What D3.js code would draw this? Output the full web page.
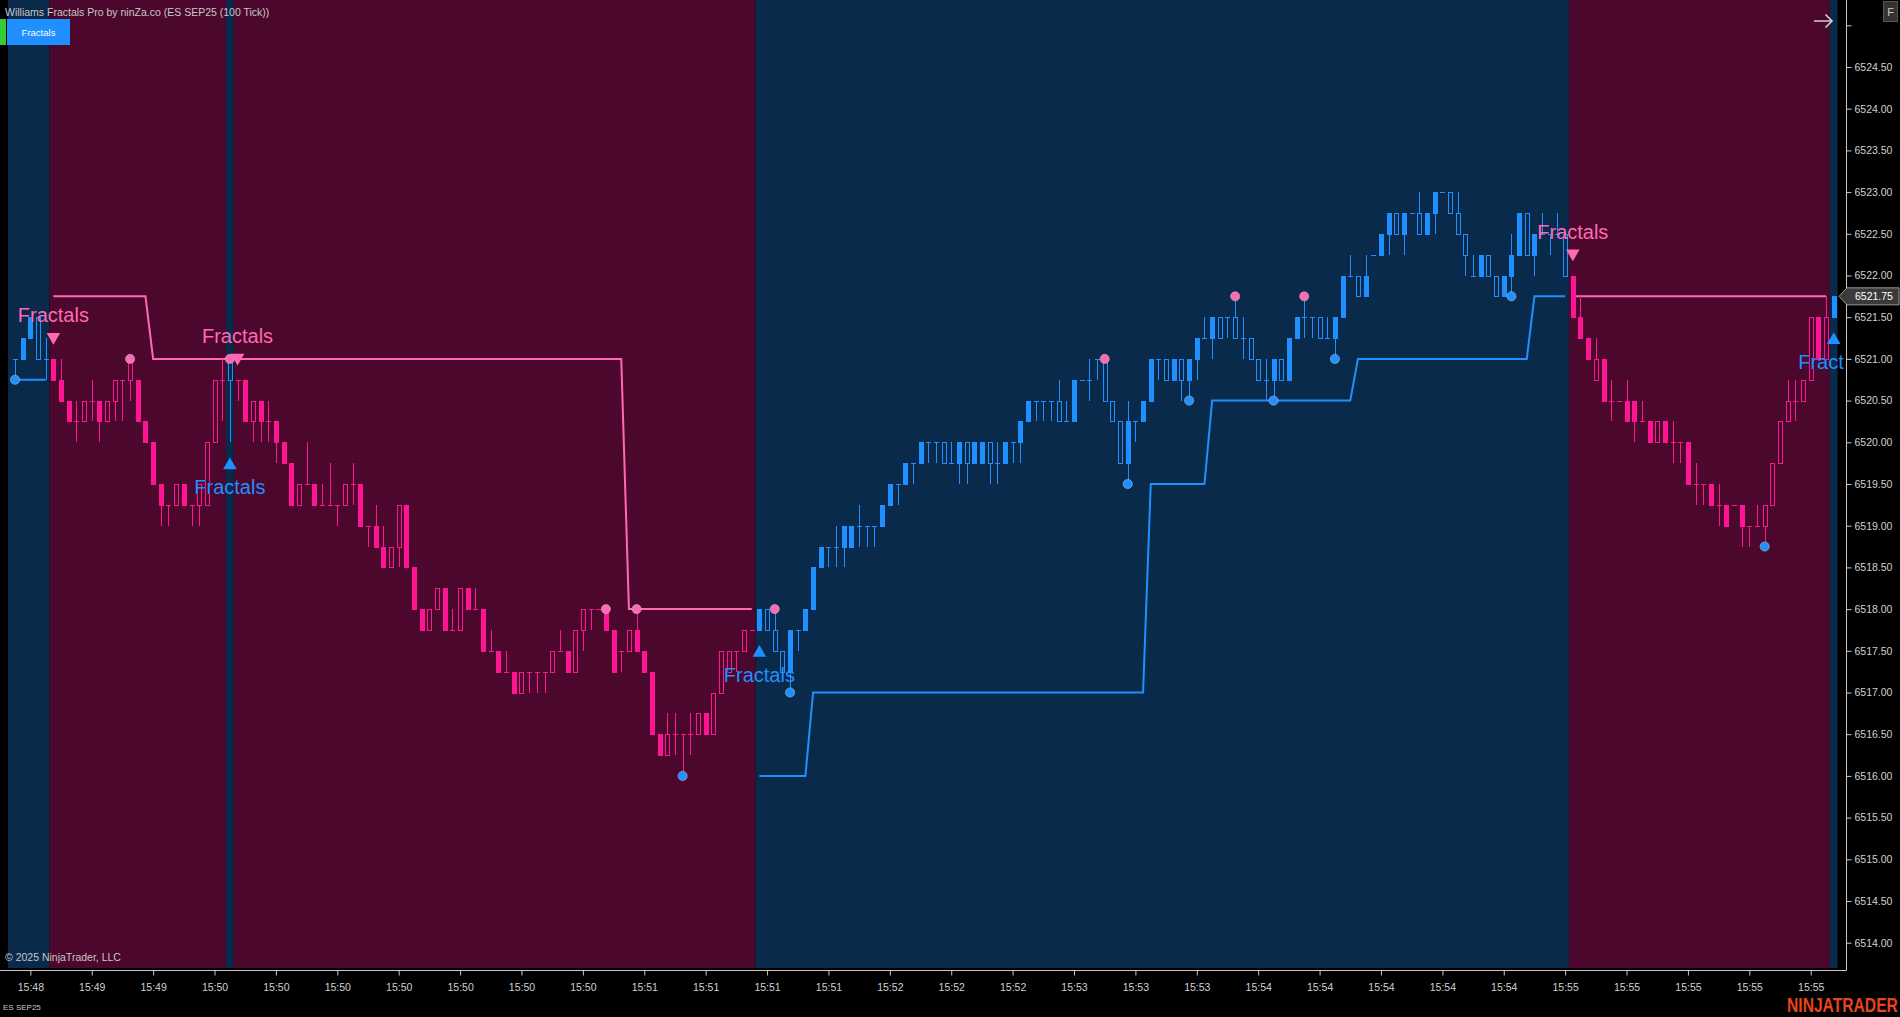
<!DOCTYPE html>
<html><head><meta charset="utf-8">
<script src="https://cdn.jsdelivr.net/npm/d3@7"></script>
<style>
html,body{margin:0;padding:0;background:#000;overflow:hidden;}
svg{display:block;font-family:"Liberation Sans",Arial,sans-serif;}
</style></head><body>
<svg id="chart" width="1900" height="1017"></svg>
<script>
// ---------------- DATA ----------------
const opens = [
6521,6521,6521.25,6521.5,6521,6521,6520.75,6520.5,6520.25,6520.25,
6520.5,6520.5,6520.25,6520.5,6520.75,6520.75,6520.75,6520.25,6520,6519.5,
6519.25,6519.25,6519.5,6519.25,6519.25,6519.25,6520,6520.75,6521,6520.75,
6520.75,6520.25,6520.5,6520.25,6520.25,6520,6519.75,6519.25,6519.5,6519.5,
6519.25,6519.25,6519.25,6519.25,6519.5,6519.5,6519,6519,6518.75,6518.5,
6518.75,6519.25,6518.5,6518,6517.75,6518,6518.25,6517.75,6517.75,6518.25,
6518,6518,6517.5,6517.5,6517.25,6517.25,6517,6517.25,6517.25,6517.25,
6517.25,6517.5,6517.5,6517.25,6517.75,6518,6518,6518,6517.75,6517.5,
6517.5,6517.75,6517.5,6517.25,6516.5,6516.25,6516.5,6516.5,6516.5,6516.5,
6516.75,6516.5,6517,6517.25,6517.5,6517.5,6517.75,6517.75,6518,6517.75,
6517.5,6517.25,6517.75,6517.75,6518,6518.5,6518.75,6518.75,6518.75,6518.75,
6519,6519,6519,6519,6519.25,6519.5,6519.5,6519.75,6519.75,6520,
6520,6520,6519.75,6519.75,6520,6519.75,6519.75,6520,6519.75,6519.75,
6520,6520,6520.25,6520.5,6520.5,6520.5,6520.5,6520.25,6520.25,6520.75,
6520.75,6521,6521,6520.5,6520.25,6519.75,6520.25,6520.25,6520.5,6521,
6521,6520.75,6521,6520.75,6521,6521.25,6521.25,6521.5,6521.5,6521.5,
6521.25,6521.25,6521,6520.75,6520.75,6521,6520.75,6521.25,6521.5,6521.5,
6521.5,6521.25,6521.25,6521.5,6522,6522,6521.75,6522.25,6522.25,6522.5,
6522.75,6522.5,6522.75,6522.75,6522.5,6522.75,6523,6523,6522.75,6522.5,
6522,6522,6522.25,6522,6521.75,6522,6522.25,6522.75,6522.25,6522.5,
6522.5,6522.5,6522.5,6522,6521.5,6521.25,6520.75,6521,6520.5,6520.5,
6520.5,6520.5,6520.25,6520.25,6520,6520.25,6520,6520,6520,6519.5,
6519.5,6519.5,6519.25,6519.25,6519.25,6519.25,6519,6519,6519,6519.25,
6519.75,6520.25,6520.5,6520.5,6520.75,6521.5,6521,6521.5];
const highs = [
6521,6521.25,6521.5,6521.5,6521.25,6521,6521,6520.5,6520.5,6520.5,
6520.75,6520.5,6520.5,6520.75,6520.75,6521,6520.75,6520.25,6520,6519.5,
6519.25,6519.5,6519.5,6519.25,6519.5,6520,6520.75,6521,6521,6520.75,
6520.75,6520.5,6520.5,6520.5,6520.25,6520,6519.75,6519.5,6520,6519.5,
6519.5,6519.75,6519.25,6519.5,6519.75,6519.5,6519,6519.25,6519,6518.75,
6519.25,6519.25,6518.5,6518,6518,6518.25,6518.25,6518,6518.25,6518.25,
6518.25,6518,6517.75,6517.5,6517.5,6517.25,6517.25,6517.25,6517.25,6517.25,
6517.5,6517.75,6517.5,6517.75,6518,6518,6518,6518,6517.75,6517.5,
6517.75,6518,6517.5,6517.25,6516.5,6516.75,6516.75,6516.5,6516.75,6516.75,
6516.75,6517,6517.5,6517.5,6517.5,6517.75,6517.75,6518,6518,6518,
6517.5,6517.75,6517.75,6518,6518.5,6518.75,6518.75,6519,6519,6519,
6519.25,6519,6519,6519.25,6519.5,6519.5,6519.75,6519.75,6520,6520,
6520,6520,6520,6520,6520,6520,6520,6520,6520,6520,
6520,6520.25,6520.5,6520.5,6520.5,6520.5,6520.75,6520.5,6520.75,6520.75,
6521,6521,6521,6520.5,6520.25,6520.5,6520.25,6520.5,6521,6521,
6521,6521,6521,6521,6521.25,6521.5,6521.5,6521.5,6521.5,6521.75,
6521.5,6521.25,6521,6521,6521,6521,6521.25,6521.5,6521.75,6521.5,
6521.5,6521.5,6521.5,6522,6522.25,6522,6522.25,6522.25,6522.5,6522.75,
6522.75,6522.75,6522.75,6523,6522.75,6523,6523,6523,6523,6522.5,
6522.25,6522.25,6522.25,6522,6522,6522.5,6522.75,6522.75,6522.5,6522.75,
6522.5,6522.75,6522.5,6522,6521.75,6521.25,6521.25,6521,6520.75,6520.5,
6520.75,6520.5,6520.5,6520.25,6520.25,6520.25,6520.25,6520,6520,6519.75,
6519.5,6519.5,6519.5,6519.25,6519.25,6519.25,6519,6519.25,6519.25,6519.75,
6520.25,6520.75,6520.75,6520.75,6521.5,6521.5,6521.75,6521.75];
const lows = [
6520.75,6521,6521.25,6521,6520.75,6520.75,6520.5,6520.25,6520,6520.25,
6520.25,6520,6520.25,6520.25,6520.25,6520.5,6520.25,6520,6519.5,6519,
6519,6519.25,6519.25,6519,6519,6519.25,6520,6520.25,6520,6520.5,
6520.25,6520,6520,6520,6519.75,6519.75,6519.25,6519.25,6519.5,6519.25,
6519.25,6519.25,6519,6519.25,6519.25,6519,6518.75,6518.75,6518.5,6518.5,
6518.5,6518.5,6518,6517.75,6517.75,6518,6517.75,6517.75,6517.75,6518,
6518,6517.5,6517.5,6517.25,6517.25,6517,6517,6517,6517,6517,
6517.25,6517.5,6517.25,6517.25,6517.5,6517.75,6518,6517.75,6517.25,6517.25,
6517.5,6517.5,6517.25,6516.5,6516.25,6516.25,6516.25,6516,6516.25,6516.5,
6516.5,6516.5,6517,6517.25,6517.25,6517.5,6517.75,6517.75,6517.75,6517.5,
6517.25,6517,6517.5,6517.75,6518,6518.5,6518.5,6518.5,6518.5,6518.75,
6518.75,6518.75,6518.75,6519,6519.25,6519.25,6519.5,6519.5,6519.75,6519.75,
6519.75,6519.75,6519.75,6519.5,6519.5,6519.75,6519.75,6519.5,6519.5,6519.75,
6519.75,6519.75,6520.25,6520.25,6520.25,6520.25,6520.25,6520.25,6520.25,6520.75,
6520.5,6520.75,6520.5,6520.25,6519.75,6519.5,6520,6520.25,6520.5,6520.75,
6520.75,6520.75,6520.5,6520.5,6520.75,6521.25,6521,6521.25,6521.25,6521.25,
6521,6521,6520.75,6520.5,6520.5,6520.75,6520.75,6521.25,6521.25,6521.25,
6521.25,6521.25,6521,6521.5,6522,6521.75,6521.75,6522.25,6522.25,6522.25,
6522.5,6522.25,6522.75,6522.5,6522.5,6522.5,6523,6522.75,6522.5,6522,
6522,6522,6522,6521.75,6521.75,6521.75,6522.25,6522.25,6522,6522.5,
6522.25,6522.5,6522,6521.5,6521.25,6521,6520.75,6520.5,6520.25,6520.5,
6520.25,6520,6520.25,6520,6520,6520,6519.75,6519.75,6519.5,6519.25,
6519.25,6519.25,6519,6519,6519.25,6518.75,6518.75,6519,6518.75,6519.25,
6519.75,6520.25,6520.25,6520.5,6520.75,6521,6521,6521.5];
const closes = [
6521,6521.25,6521.5,6521,6521,6520.75,6520.5,6520.25,6520.25,6520.5,
6520.5,6520.25,6520.5,6520.75,6520.75,6521,6520.25,6520,6519.5,6519.25,
6519.25,6519.5,6519.25,6519.25,6519.5,6520,6520.75,6520.75,6520.75,6520.75,
6520.25,6520.5,6520.25,6520.25,6520,6519.75,6519.25,6519.5,6519.5,6519.25,
6519.25,6519.25,6519.25,6519.5,6519.5,6519,6519,6518.75,6518.5,6518.75,
6519.25,6518.5,6518,6517.75,6518,6518.25,6517.75,6517.75,6518.25,6518,
6518,6517.5,6517.5,6517.25,6517.25,6517,6517.25,6517.25,6517.25,6517.25,
6517.5,6517.5,6517.25,6517.75,6518,6518,6518,6517.75,6517.25,6517.5,
6517.75,6517.5,6517.25,6516.5,6516.25,6516.5,6516.5,6516.5,6516.5,6516.75,
6516.5,6517,6517.5,6517.5,6517.5,6517.75,6517.75,6518,6517.75,6517.5,
6517.25,6517.75,6517.75,6518,6518.5,6518.75,6518.75,6518.75,6519,6519,
6519,6519,6519,6519.25,6519.5,6519.5,6519.75,6519.75,6520,6520,
6520,6519.75,6519.75,6520,6519.75,6520,6520,6519.75,6519.75,6520,
6520,6520.25,6520.5,6520.5,6520.5,6520.5,6520.25,6520.25,6520.75,6520.75,
6520.75,6521,6520.5,6520.25,6519.75,6520.25,6520.25,6520.5,6521,6521,
6520.75,6521,6520.75,6521,6521.25,6521.25,6521.5,6521.25,6521.5,6521.25,
6521.25,6521,6520.75,6520.75,6521,6520.75,6521.25,6521.5,6521.5,6521.5,
6521.25,6521.25,6521.5,6522,6522,6521.75,6522,6522.25,6522.5,6522.75,
6522.5,6522.75,6522.75,6522.5,6522.75,6523,6523,6522.75,6522.5,6522.25,
6522,6522.25,6522,6521.75,6522,6522.25,6522.75,6522.25,6522.5,6522.5,
6522.5,6522.5,6522,6521.5,6521.25,6521,6521,6520.5,6520.5,6520.5,
6520.25,6520.25,6520.25,6520,6520.25,6520,6520,6520,6519.5,6519.5,
6519.5,6519.25,6519.25,6519,6519.25,6519,6519,6519,6519.25,6519.75,
6520.25,6520.5,6520.5,6520.75,6521.5,6521,6521.5,6521.75];

// trend regime: first bar of each run and its direction
const trendStarts = [0, 5, 28, 29, 97, 203, 237];
const trendDirs   = ["up","down","up","down","up","down","up"];

// trailing fractal levels (resistance = pink, support = blue)
const resistFrom = [5, 18, 80, 203];
const resistTo   = [17, 79, 96, 236];
const resistVal  = [6521.75, 6521, 6518, 6521.75];
const supportFrom = [0, 97, 104, 148, 156, 175, 198];
const supportTo   = [4, 103, 147, 155, 174, 197, 202];
const supportVal  = [6520.75, 6516, 6517, 6519.5, 6520.5, 6521, 6521.75];

// fractal points
const highFractalBars = [15, 28, 77, 81, 99, 142, 159, 168];
const lowFractalBars  = [0, 87, 101, 145, 153, 164, 172, 195, 228];
// signals
const sellSignalBars = [5, 29, 203];
const buySignalBars  = [28, 97, 237];

// axis ticks
const yTickValues = [6514,6514.5,6515,6515.5,6516,6516.5,6517,6517.5,6518,6518.5,6519,6519.5,6520,6520.5,6521,6521.5,6522,6522.5,6523,6523.5,6524,6524.5,6525];
const yTickLabels = ["6514.00","6514.50","6515.00","6515.50","6516.00","6516.50","6517.00","6517.50","6518.00","6518.50","6519.00","6519.50","6520.00","6520.50","6521.00","6521.50","6522.00","6522.50","6523.00","6523.50","6524.00","6524.50",""];
const xTickBars = [2,10,18,26,34,42,50,58,66,74,82,90,98,106,114,122,130,138,146,154,162,170,178,186,194,202,210,218,226,234];
const xTickLabels = ["15:48","15:49","15:49","15:50","15:50","15:50","15:50","15:50","15:50","15:50","15:51","15:51","15:51","15:51","15:52","15:52","15:52","15:53","15:53","15:53","15:54","15:54","15:54","15:54","15:54","15:55","15:55","15:55","15:55","15:55"];

// ---------------- DRAW ----------------
const COL = {
  bgUp: "#0a2a4b", bgDown: "#4c072c",
  up: "#1e90ff", down: "#ff1493",
  lineDown: "#ff69b4", lineUp: "#1e90ff",
  axis: "#c8c8c8", text: "#d0d0d0"
};
const n = opens.length;
const slot = 7.674;
const plotLeft = 8, plotRight = 1845, plotBottom = 968;
const axisX = 1846.5, axisY = 970.5;

const x = d3.scaleLinear().domain([0, n - 1]).range([15, 15 + slot * (n - 1)]);
const y = d3.scaleLinear().domain([6514, 6524.5]).range([942.7, 67]);

const trendAt = new Array(n);
trendStarts.forEach((s, k) => {
  const e = (k + 1 < trendStarts.length ? trendStarts[k + 1] : n);
  for (let i = s; i < e; i++) trendAt[i] = trendDirs[k];
});

const svg = d3.select("#chart");
svg.append("rect").attr("width", 1900).attr("height", 1017).attr("fill", "#000");

const defs = svg.append("defs");
defs.append("clipPath").attr("id", "plotClip").append("rect")
  .attr("x", plotLeft).attr("y", 0).attr("width", plotRight - plotLeft).attr("height", plotBottom);

const plot = svg.append("g").attr("clip-path", "url(#plotClip)");

// background regimes
const runs = trendStarts.map((s, k) => ({
  from: s, to: (k + 1 < trendStarts.length ? trendStarts[k + 1] : n) - 1, dir: trendDirs[k], k
}));
plot.append("g").selectAll("rect").data(runs).join("rect")
  .attr("x", d => d.k === 0 ? plotLeft : x(d.from) - slot / 2)
  .attr("width", d => (x(d.to) + slot / 2) - (d.k === 0 ? plotLeft : x(d.from) - slot / 2))
  .attr("y", 0).attr("height", plotBottom)
  .attr("fill", d => d.dir === "up" ? COL.bgUp : COL.bgDown);

// trailing lines
function levelSeries(from, to, val) {
  const arr = d3.range(n).map(i => ({ i, v: null }));
  from.forEach((f, k) => { for (let i = f; i <= to[k]; i++) arr[i].v = val[k]; });
  return arr;
}
const lineGen = d3.line().defined(d => d.v !== null).x(d => x(d.i)).y(d => y(d.v));
plot.append("path").datum(levelSeries(resistFrom, resistTo, resistVal))
  .attr("d", lineGen).attr("fill", "none").attr("stroke", COL.lineDown).attr("stroke-width", 2);
plot.append("path").datum(levelSeries(supportFrom, supportTo, supportVal))
  .attr("d", lineGen).attr("fill", "none").attr("stroke", COL.lineUp).attr("stroke-width", 2);

// candles
const cg = plot.append("g");
cg.selectAll("g").data(d3.range(n)).join("g").each(function (i) {
  const g = d3.select(this);
  const dir = trendAt[i];
  const color = dir === "up" ? COL.up : COL.down;
  const o = opens[i], h = highs[i], l = lows[i], c = closes[i];
  const cx = Math.round(x(i));
  const px = cx + 0.5;
  const yH = Math.round(y(h)), yL = Math.round(y(l)), yO = Math.round(y(o)), yC = Math.round(y(c));
  if (o === c) {
    if (yL > yH) g.append("line").attr("x1", px).attr("x2", px).attr("y1", yH).attr("y2", yL)
      .attr("stroke", color).attr("stroke-width", 1);
    g.append("line").attr("x1", cx - 2).attr("x2", cx + 3).attr("y1", yO + 0.5).attr("y2", yO + 0.5)
      .attr("stroke", color).attr("stroke-width", 1);
  } else {
    const top = Math.min(yO, yC), bot = Math.max(yO, yC);
    if (top > yH) g.append("line").attr("x1", px).attr("x2", px).attr("y1", yH).attr("y2", top)
      .attr("stroke", color).attr("stroke-width", 1);
    if (yL > bot) g.append("line").attr("x1", px).attr("x2", px).attr("y1", bot).attr("y2", yL)
      .attr("stroke", color).attr("stroke-width", 1);
    const filled = (dir === "up") === (c > o);
    if (filled) {
      g.append("rect").attr("x", cx - 2).attr("y", top).attr("width", 5).attr("height", bot - top + 1)
        .attr("fill", color);
    } else {
      g.append("rect").attr("x", cx - 1.5).attr("y", top + 0.5).attr("width", 4).attr("height", bot - top)
        .attr("fill", "none").attr("stroke", color).attr("stroke-width", 1);
    }
  }
});

// fractal dots
plot.append("g").selectAll("circle").data(highFractalBars).join("circle")
  .attr("cx", d => x(d)).attr("cy", d => y(highs[d])).attr("r", 4.6)
  .attr("fill", COL.lineDown).attr("stroke", "rgba(190,190,190,0.55)").attr("stroke-width", 1);
plot.append("g").selectAll("circle").data(lowFractalBars).join("circle")
  .attr("cx", d => x(d)).attr("cy", d => y(lows[d])).attr("r", 4.6)
  .attr("fill", COL.lineUp).attr("stroke", "rgba(190,190,190,0.55)").attr("stroke-width", 1);

// signals
const tri = d3.symbol().type(d3.symbolTriangle).size(80);
const sg = plot.append("g");
sg.selectAll("path.sell").data(sellSignalBars).join("path").attr("class", "sell")
  .attr("d", tri).attr("fill", COL.lineDown)
  .attr("transform", d => `translate(${x(d)},${y(highs[d]) - 22}) rotate(180)`);
sg.selectAll("text.sell").data(sellSignalBars).join("text").attr("class", "sell")
  .attr("x", d => x(d)).attr("y", d => y(highs[d]) - 44)
  .attr("text-anchor", "middle").attr("dominant-baseline", "central")
  .attr("font-size", "20px").attr("fill", COL.lineDown).text("Fractals");
sg.selectAll("path.buy").data(buySignalBars).join("path").attr("class", "buy")
  .attr("d", tri).attr("fill", COL.lineUp)
  .attr("transform", d => `translate(${x(d)},${y(lows[d]) + 23})`);
sg.selectAll("text.buy").data(buySignalBars).join("text").attr("class", "buy")
  .attr("x", d => x(d)).attr("y", d => y(lows[d]) + 45)
  .attr("text-anchor", "middle").attr("dominant-baseline", "central")
  .attr("font-size", "20px").attr("fill", COL.lineUp).text("Fractals");

// labels running past the plot's right edge are cut at the edge (as the platform does)
sg.selectAll("text").each(function () {
  const t = d3.select(this);
  const full = t.text();
  const bb = this.getBBox();
  if (bb.x + bb.width > plotRight) {
    const left = bb.x;
    let k = full.length;
    while (k > 1 && left + this.getSubStringLength(0, k) > plotRight) k--;
    t.attr("text-anchor", "start").attr("x", left).text(full.slice(0, k));
  }
});

// axes
const yAxis = d3.axisRight(y).tickValues(yTickValues)
  .tickFormat((d, i) => yTickLabels[i]).tickSize(5).tickPadding(3).tickSizeOuter(0);
const yg = svg.append("g").attr("transform", `translate(${axisX},0)`).call(yAxis);
yg.select(".domain").remove();
yg.selectAll("line").attr("stroke", COL.axis);
yg.selectAll("text").attr("fill", COL.text).attr("font-size", "10.5px").attr("font-family", "Liberation Sans, Arial, sans-serif");

const xAxis = d3.axisBottom(x).tickValues(xTickBars)
  .tickFormat((d, i) => xTickLabels[i]).tickSize(5).tickPadding(8).tickSizeOuter(0);
const xg = svg.append("g").attr("transform", `translate(0,${axisY})`).call(xAxis);
xg.select(".domain").remove();
xg.selectAll("line").attr("stroke", COL.axis);
xg.selectAll("text").attr("fill", COL.text).attr("font-size", "10.5px").attr("font-family", "Liberation Sans, Arial, sans-serif");

svg.append("line").attr("x1", axisX).attr("x2", axisX).attr("y1", 0).attr("y2", axisY)
  .attr("stroke", COL.axis).attr("stroke-width", 1);
svg.append("line").attr("x1", 0).attr("x2", axisX).attr("y1", axisY).attr("y2", axisY)
  .attr("stroke", COL.axis).attr("stroke-width", 1);

// last price marker
const lastP = closes[n - 1];
const my = y(lastP);
svg.append("path")
  .attr("d", `M1839,${my} L1847,${my - 8.5} L1899,${my - 8.5} L1899,${my + 8.5} L1847,${my + 8.5} Z`)
  .attr("fill", "#3a3a3a").attr("stroke", "#9a9a9a").attr("stroke-width", 1);
svg.append("text").attr("x", 1855).attr("y", my).attr("dominant-baseline", "central")
  .attr("fill", "#ffffff").attr("font-size", "10.5px").text(d3.format(".2f")(lastP));

// title & chrome
svg.append("text").attr("x", 5).attr("y", 12).attr("dominant-baseline", "central")
  .attr("fill", "#c8c8c8").attr("font-size", "10.5px")
  .text("Williams Fractals Pro by ninZa.co (ES SEP25 (100 Tick))");
svg.append("rect").attr("x", 0).attr("y", 19).attr("width", 6).attr("height", 26).attr("fill", "#32cd32");
svg.append("rect").attr("x", 7).attr("y", 19).attr("width", 63).attr("height", 26).attr("fill", "#1e90ff");
svg.append("text").attr("x", 38.5).attr("y", 32).attr("text-anchor", "middle").attr("dominant-baseline", "central")
  .attr("fill", "#ffffff").attr("font-size", "9.5px").text("Fractals");

svg.append("text").attr("x", 5).attr("y", 957).attr("dominant-baseline", "central")
  .attr("fill", "#c8c8c8").attr("font-size", "10.5px").text("© 2025 NinjaTrader, LLC");
svg.append("text").attr("x", 3).attr("y", 1007.5).attr("dominant-baseline", "central")
  .attr("fill", "#c8c8c8").attr("font-size", "8px").text("ES SEP25");

// logo: compact bold text, stretched vertically
const logo = svg.append("text").attr("x", 0).attr("y", 0).attr("fill", "#e8441e")
  .attr("font-size", "15px").attr("font-weight", "bold").text("NINJATRADER");
const lw = logo.node().getComputedTextLength();
logo.attr("transform", `translate(1787,1012) scale(${111 / lw},1.38)`);

// arrow & F button
svg.append("path").attr("d", "M1814,21 L1832,21 M1825.5,14.5 L1832,21 L1825.5,27.5")
  .attr("fill", "none").attr("stroke", "#cfcfcf").attr("stroke-width", 1.6);
svg.append("rect").attr("x", 1883.5).attr("y", 1.5).attr("width", 14).attr("height", 20)
  .attr("fill", "#333").attr("stroke", "#555");
svg.append("text").attr("x", 1890.5).attr("y", 11.5).attr("text-anchor", "middle").attr("dominant-baseline", "central")
  .attr("fill", "#c8c8c8").attr("font-size", "11px").text("F");
</script>
</body></html>
